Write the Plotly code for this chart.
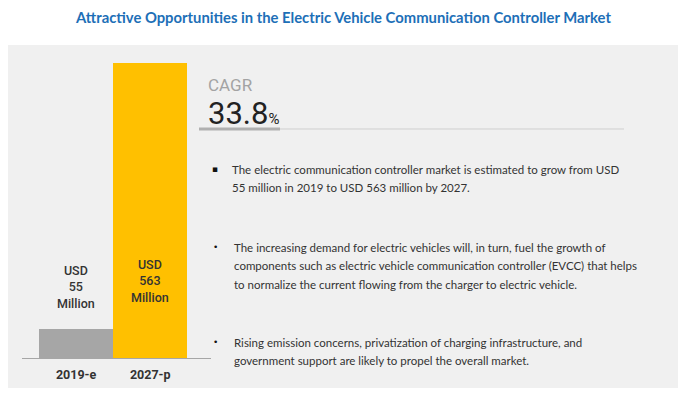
import plotly.graph_objects as go

# ---- data ----
categories = ["2019-e", "2027-p"]
values = [55, 563]
bar_colors = ["#a6a6a6", "#ffc000"]
value_labels = ["USD<br>55<br>Million", "USD<br>563<br>Million"]
title_text = "Attractive Opportunities in the Electric Vehicle Communication Controller Market"
cagr_label = "CAGR"
cagr_value = "33.8"
bullets = [
    ["The electric communication controller market is estimated to grow from USD",
     "55 million in 2019 to USD 563 million by 2027."],
    ["The increasing demand for electric vehicles will, in turn, fuel the growth of",
     "components such as electric vehicle communication controller (EVCC) that helps",
     "to normalize the current flowing from the charger to electric vehicle."],
    ["Rising emission concerns, privatization of charging infrastructure, and",
     "government support are likely to propel the overall market."],
]
bullet_marks = ["▪", "•", "•"]

W, H = 683, 398
def px(x):
    return x / W
def py(y):
    return 1 - y / H

COND = "Roboto, Arial, sans-serif"

fig = go.Figure()
fig.add_trace(go.Bar(
    x=categories, y=values, marker=dict(color=bar_colors, line=dict(width=0)),
    width=1.0, hoverinfo="skip", showlegend=False,
))

# panel background
shapes = [dict(type="rect", xref="paper", yref="paper", x0=px(8), x1=px(678), y0=py(388), y1=py(45),
               fillcolor="#f0f0f0", line=dict(width=0), layer="below")]
# CAGR underline
shapes.append(dict(type="line", xref="paper", yref="paper", x0=px(280), x1=px(624), y0=py(129), y1=py(129),
                   line=dict(color="#cfcfcf", width=1)))
shapes.append(dict(type="line", xref="paper", yref="paper", x0=px(199), x1=px(280), y0=py(129), y1=py(129),
                   line=dict(color="#b0b0b0", width=3)))

annotations = []
annotations.append(dict(text="<b>" + title_text + "</b>", xref="paper", yref="paper", x=px(343), y=py(17),
                        xanchor="center", yanchor="middle", showarrow=False,
                        font=dict(family="Lato, sans-serif", size=14.8, color="#1d6fb7")))
# value labels
annotations.append(dict(text=value_labels[0], x=categories[0], y=values[0], xref="x", yref="y",
                        xanchor="center", yanchor="bottom", yshift=16, showarrow=False,
                        font=dict(family=COND, size=12.5, color="#333333", weight=500)))
annotations.append(dict(text=value_labels[1], x=categories[1], y=values[1], xref="x", yref="y",
                        xanchor="center", yanchor="top", yshift=-192, showarrow=False,
                        font=dict(family=COND, size=12.5, color="#333333", weight=500)))
# CAGR
annotations.append(dict(text=cagr_label, xref="paper", yref="paper", x=px(206), y=py(85),
                        xanchor="left", yanchor="middle", showarrow=False,
                        font=dict(family="Roboto, sans-serif", size=17, color="#a3a3a3")))
annotations.append(dict(text=cagr_value + "<span style='font-size:15px'>%</span>", xref="paper", yref="paper",
                        x=px(206), y=py(113), xanchor="left", yanchor="middle", showarrow=False,
                        font=dict(family="Roboto, sans-serif", size=31, color="#222222")))
# bullets
starts = [169, 247, 342]
text_x = [230, 232, 232]
for mark, lines, y0, tx in zip(bullet_marks, bullets, starts, text_x):
    annotations.append(dict(text=mark, xref="paper", yref="paper", x=px(215), y=py(y0),
                            xanchor="center", yanchor="middle", showarrow=False,
                            font=dict(family="DejaVu Sans, sans-serif", size=9, color="#111111")))
    for i, line in enumerate(lines):
        annotations.append(dict(text=line, xref="paper", yref="paper", x=px(tx), y=py(y0 + i * 18.5),
                                xanchor="left", yanchor="middle", showarrow=False,
                                font=dict(family="Lato, sans-serif", size=11.5, color="#333333")))

fig.update_layout(
    width=W, height=H, margin=dict(l=0, r=0, t=0, b=0),
    paper_bgcolor="white", plot_bgcolor="rgba(0,0,0,0)",
    bargap=0, shapes=shapes, annotations=annotations, hovermode=False,
    xaxis=dict(domain=[px(22), px(211)], range=[-0.73, 1.82], showline=True, linecolor="#a6a6a6", linewidth=1,
               showgrid=False, zeroline=False, ticks="outside", ticklen=5, tickcolor="rgba(0,0,0,0)",
               tickfont=dict(family=COND, size=12.5, color="#333333", weight="bold"), fixedrange=True),
    yaxis=dict(domain=[py(358), py(63)], range=[0, 563], visible=False, fixedrange=True),
)
fig.write_html("out.html", config={"displayModeBar": False, "staticPlot": True},
               post_script="document.body.style.margin='0';")
